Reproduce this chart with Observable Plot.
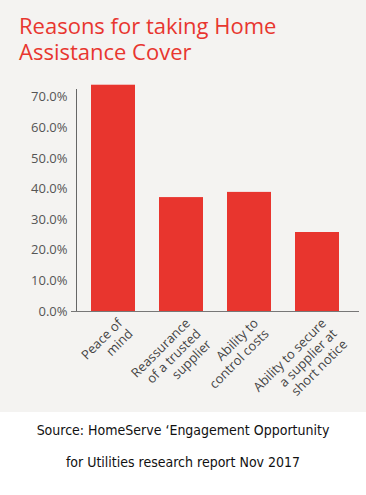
<!DOCTYPE html>
<html>
<head>
<meta charset="utf-8">
<script src="https://cdn.jsdelivr.net/npm/d3@7"></script>
<script src="https://cdn.jsdelivr.net/npm/@observablehq/plot@0.6"></script>
<style>
  html, body { margin: 0; padding: 0; background: #ffffff; }
  #wrap { width: 366px; height: 412px; background: #f4f3f1; position: relative; overflow: hidden; }
  .title { position: absolute; left: 19px; font-family: "Open Sans", sans-serif; font-size: 22px; line-height: 24px; color: #e8362f; white-space: nowrap; }
  #t1 { top: 13px; }
  #t2 { top: 39px; }
  #chart { position: absolute; left: 0; top: 0; }
  #caption { width: 366px; text-align: center; font-family: "DejaVu Sans Condensed", "DejaVu Sans", sans-serif; font-size: 14px; color: #111; line-height: 32px; padding-top: 2px; }
</style>
</head>
<body>
<div id="wrap">
  <div id="chart"></div>
  <div class="title" id="t1">Reasons for taking Home</div>
  <div class="title" id="t2">Assistance Cover</div>
</div>
<div id="caption">Source: HomeServe ‘Engagement Opportunity<br>for Utilities research report Nov 2017</div>
<script>
const categories = ["Peace of mind", "Reassurance of a trusted supplier", "Ability to control costs", "Ability to secure a supplier at short notice"];
const categoryLabels = ["Peace of\nmind", "Reassurance\nof a trusted\nsupplier", "Ability to\ncontrol costs", "Ability to secure\na supplier at\nshort notice"];
const values = [0.739, 0.372, 0.389, 0.258];
const yTicks = [0, 0.1, 0.2, 0.3, 0.4, 0.5, 0.6, 0.7];

const data = categories.map((c, i) => ({category: c, value: values[i], label: categoryLabels[i]}));

const chart = Plot.plot({
  width: 366,
  height: 412,
  marginTop: 89,
  marginBottom: 101,
  marginLeft: 76,
  marginRight: 13,
  style: {background: "transparent", fontFamily: "Open Sans, sans-serif", fontSize: "13px", color: "#555"},
  x: {domain: categories, paddingInner: 0.353, paddingOuter: 0.213, axis: null},
  y: {domain: [0, 0.725], axis: null},
  marks: [
    Plot.barY(data, {x: "category", y: "value", fill: "#e8352e"}),
    Plot.axisY({ticks: yTicks, tickFormat: d => (d * 100).toFixed(1) + "%", tickSize: 0, tickPadding: 9, fontSize: 13, fill: "#555", label: null}),
    Plot.text(data, {x: "category", text: "label", frameAnchor: "bottom", dy: 5, dx: 2, rotate: -45, textAnchor: "end", lineAnchor: "top", lineHeight: 1.15, fontSize: 13, fill: "#444"}),
    Plot.frame({anchor: "left", stroke: "#666"}),
    Plot.ruleY([0], {insetLeft: -5, insetRight: -6, stroke: "#777"})
  ]
});
document.getElementById("chart").appendChild(chart);
</script>
</body>
</html>
